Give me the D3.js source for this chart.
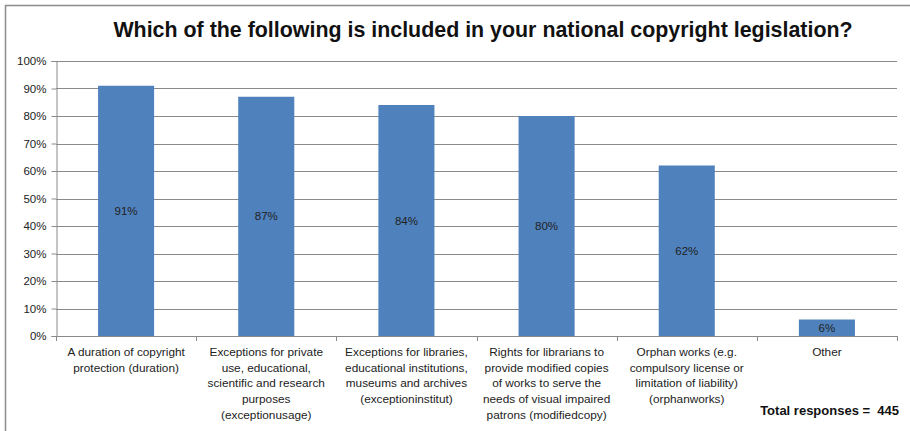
<!DOCTYPE html>
<html>
<head>
  <meta charset="utf-8">
  <title>National copyright legislation</title>
  <script src="https://d3js.org/d3.v7.min.js"></script>
  <style>
    body { margin: 0; background: #fff; }
    text { font-family: "Liberation Sans", Arial, sans-serif; }
  </style>
</head>
<body>
  <div id="chart"></div>
  <script>
    // chart data
    const categories = [
      ["A duration of copyright", "protection (duration)"],
      ["Exceptions for private", "use, educational,", "scientific and research", "purposes", "(exceptionusage)"],
      ["Exceptions for libraries,", "educational institutions,", "museums and archives", "(exceptioninstitut)"],
      ["Rights for librarians to", "provide modified copies", "of works to serve the", "needs of visual impaired", "patrons (modifiedcopy)"],
      ["Orphan works (e.g.", "compulsory license or", "limitation of liability)", "(orphanworks)"],
      ["Other"]
    ];
    const values = [91, 87, 84, 80, 62, 6];
    const yTicks = [0, 10, 20, 30, 40, 50, 60, 70, 80, 90, 100];
    const title = "Which of the following is included in your national copyright legislation?";
    const totalNote = "Total responses =  445";

    const width = 910;
    const height = 431;
    const margin = { top: 61, right: 13, bottom: 95, left: 56 };
    const chartWidth = width - margin.left - margin.right;
    const chartHeight = height - margin.top - margin.bottom;

    const svg = d3.select("#chart")
      .append("svg")
      .attr("width", width)
      .attr("height", height);

    // outer frame (top and left edges)
    svg.append("path")
      .attr("d", `M5.5,${height} V5.5 H${width}`)
      .attr("fill", "none")
      .attr("stroke", "#8c8c8c")
      .attr("stroke-width", 1.5);

    // title
    svg.append("text")
      .attr("x", 483)
      .attr("y", 37)
      .attr("text-anchor", "middle")
      .style("font-size", "21.4px")
      .style("font-weight", "bold")
      .attr("fill", "#111")
      .text(title);

    const g = svg.append("g")
      .attr("transform", `translate(${margin.left}, ${margin.top})`);

    const xScale = d3.scaleBand()
      .domain(d3.range(categories.length))
      .range([0, chartWidth])
      .paddingInner(0.6)
      .paddingOuter(0.3);

    const yScale = d3.scaleLinear()
      .domain([0, 100])
      .range([chartHeight, 0]);

    // gridlines
    g.append("g")
      .selectAll("line")
      .data(yTicks.slice(1))
      .enter()
      .append("line")
      .attr("x1", 0)
      .attr("x2", chartWidth)
      .attr("y1", d => Math.round(yScale(d)) + 0.5)
      .attr("y2", d => Math.round(yScale(d)) + 0.5)
      .attr("stroke", "#8a8a8a")
      .attr("stroke-width", 1);

    // y axis
    const yAxis = g.append("g")
      .attr("transform", "translate(0.5, 0)")
      .call(d3.axisLeft(yScale).tickValues(yTicks).tickFormat(d => d + "%").tickSize(5).tickPadding(5));
    yAxis.select(".domain").attr("stroke", "#8a8a8a");
    yAxis.selectAll(".tick line").attr("stroke", "#8a8a8a");
    yAxis.selectAll("text")
      .style("font-size", "11.5px")
      .style("font-family", "'Liberation Sans', Arial, sans-serif")
      .attr("fill", "#222");

    // bars
    g.selectAll("rect.bar")
      .data(values)
      .enter()
      .append("rect")
      .attr("class", "bar")
      .attr("x", (d, i) => xScale(i))
      .attr("y", d => yScale(d))
      .attr("width", xScale.bandwidth())
      .attr("height", d => chartHeight - yScale(d))
      .attr("fill", "#4f81bd");

    // value labels centered in bars
    g.selectAll("text.val")
      .data(values)
      .enter()
      .append("text")
      .attr("class", "val")
      .attr("x", (d, i) => xScale(i) + xScale.bandwidth() / 2)
      .attr("y", d => (yScale(d) + chartHeight) / 2 + 4)
      .attr("text-anchor", "middle")
      .style("font-size", "11.5px")
      .attr("fill", "#222")
      .text(d => d + "%");

    // x axis line with category ticks
    const step = chartWidth / categories.length;
    g.append("line")
      .attr("x1", 0)
      .attr("x2", chartWidth)
      .attr("y1", chartHeight + 0.5)
      .attr("y2", chartHeight + 0.5)
      .attr("stroke", "#8a8a8a");
    g.append("g")
      .selectAll("line")
      .data(d3.range(categories.length + 1))
      .enter()
      .append("line")
      .attr("x1", d => Math.round(d * step) + 0.5)
      .attr("x2", d => Math.round(d * step) + 0.5)
      .attr("y1", chartHeight)
      .attr("y2", chartHeight + 5)
      .attr("stroke", "#8a8a8a");

    // category labels
    g.selectAll("text.cat")
      .data(categories)
      .enter()
      .append("text")
      .attr("class", "cat")
      .attr("text-anchor", "middle")
      .attr("transform", (d, i) => `translate(${xScale(i) + xScale.bandwidth() / 2}, ${chartHeight + 20})`)
      .style("font-size", "11.8px")
      .attr("fill", "#222")
      .selectAll("tspan")
      .data(d => d)
      .enter()
      .append("tspan")
      .attr("x", 0)
      .attr("y", (d, i) => i * 15.7)
      .text(d => d);

    // total responses note
    svg.append("text")
      .attr("x", 899)
      .attr("y", 415)
      .attr("text-anchor", "end")
      .style("font-size", "13px")
      .style("font-weight", "bold")
      .attr("fill", "#111")
      .attr("xml:space", "preserve")
      .text(totalNote);
  </script>
</body>
</html>
